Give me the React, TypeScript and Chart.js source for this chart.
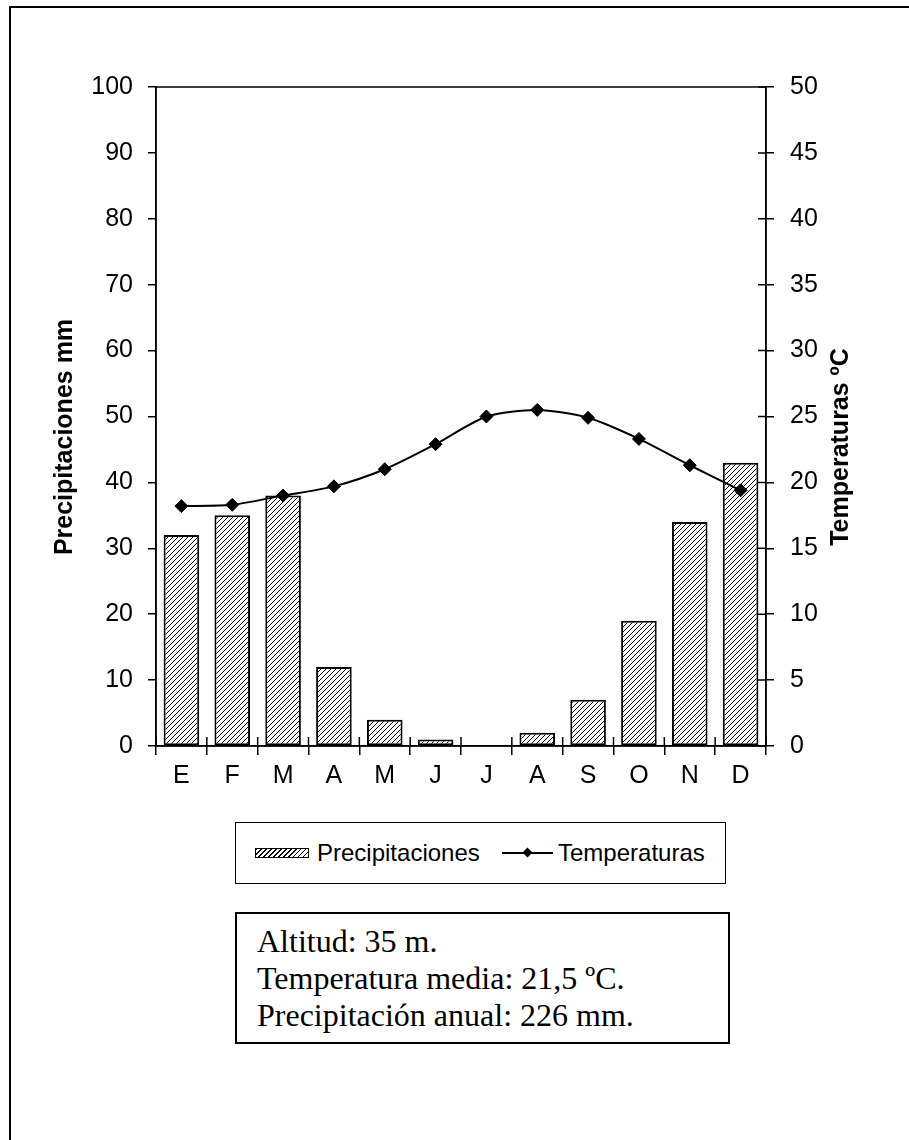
import React, { useEffect, useRef } from 'react';
import { Chart, registerables } from 'chart.js';

Chart.register(...registerables);

// ---- data ----
const months = ['E', 'F', 'M', 'A', 'M', 'J', 'J', 'A', 'S', 'O', 'N', 'D'];
const precipitation = [32, 35, 38, 12, 4, 1, 0, 2, 7, 19, 34, 43];
const temperature = [18.2, 18.3, 19.0, 19.7, 21.0, 22.9, 25.0, 25.5, 24.9, 23.3, 21.3, 19.4];
const precipAxis = [0, 100, 10]; // min, max, step
const tempAxis = [0, 50, 5];
const seriesNames = ['Precipitaciones', 'Temperaturas'];
const axisTitles = ['Precipitaciones mm', 'Temperaturas ºC'];
const infoLines = ['Altitud: 35 m.', 'Temperatura media: 21,5 ºC.', 'Precipitación anual: 226 mm.'];

const W = 909;
const H = 800;
const SANS = '"Liberation Sans", Arial, Helvetica, sans-serif';
const SERIF = '"Liberation Serif", "Times New Roman", serif';

function makeHatch(ctx: CanvasRenderingContext2D): CanvasPattern | string {
  const c = document.createElement('canvas');
  const s = 5;
  c.width = s;
  c.height = s;
  const g = c.getContext('2d');
  if (!g) return '#999';
  g.fillStyle = '#fff';
  g.fillRect(0, 0, s, s);
  g.strokeStyle = '#000';
  g.lineWidth = 1;
  g.beginPath();
  g.moveTo(0, s);
  g.lineTo(s, 0);
  g.moveTo(-1, 1);
  g.lineTo(1, -1);
  g.moveTo(s - 1, s + 1);
  g.lineTo(s + 1, s - 1);
  g.stroke();
  return ctx.createPattern(c, 'repeat') || '#999';
}

const decorPlugin = {
  id: 'decor',
  afterDraw(chart: any) {
    const { ctx, chartArea, scales } = chart;
    const { left, right, top, bottom } = chartArea;
    ctx.save();
    ctx.strokeStyle = '#000';
    ctx.lineWidth = 1.5;
    // plot frame
    ctx.strokeRect(left, top, right - left, bottom - top);
    // inner tick halves on right axis
    const y1 = scales.y1;
    ctx.beginPath();
    y1.ticks.forEach((t: any) => {
      const py = y1.getPixelForValue(t.value);
      ctx.moveTo(right - 8, py);
      ctx.lineTo(right, py);
    });
    // inner tick halves on x axis (category boundaries)
    const xs = scales.x;
    for (let i = 0; i <= months.length; i++) {
      const px = xs.getPixelForValue(i - 0.5);
      ctx.moveTo(px, bottom - 9);
      ctx.lineTo(px, bottom);
    }
    ctx.stroke();
    // axis titles
    ctx.fillStyle = '#000';
    ctx.font = `bold 25px ${SANS}`;
    ctx.textAlign = 'center';
    ctx.textBaseline = 'middle';
    ctx.save();
    ctx.translate(65, 437);
    ctx.rotate(-Math.PI / 2);
    ctx.fillText(axisTitles[0], 0, 0);
    ctx.restore();
    ctx.save();
    ctx.translate(841, 447);
    ctx.rotate(-Math.PI / 2);
    ctx.fillText(axisTitles[1], 0, 0);
    ctx.restore();
    ctx.restore();
  },
};

function ChartCanvas() {
  const ref = useRef<HTMLCanvasElement | null>(null);
  useEffect(() => {
    const canvas = ref.current;
    if (!canvas) return;
    const ctx = canvas.getContext('2d');
    if (!ctx) return;
    const hatch = makeHatch(ctx);
    const tickFont = { family: SANS, size: 25 };
    const chart = new Chart(ctx, {
      type: 'bar',
      data: {
        labels: months,
        datasets: [
          {
            type: 'line',
            label: seriesNames[1],
            data: temperature,
            yAxisID: 'y1',
            borderColor: '#000',
            borderWidth: 2,
            backgroundColor: '#000',
            pointStyle: 'rectRot',
            pointRadius: 6.5,
            pointBackgroundColor: '#000',
            pointBorderColor: '#000',
            pointBorderWidth: 1,
            tension: 0.25,
            fill: false,
            order: 0,
          } as any,
          {
            type: 'bar',
            label: seriesNames[0],
            data: precipitation,
            yAxisID: 'y',
            backgroundColor: hatch,
            borderColor: '#000',
            borderWidth: 2,
            borderSkipped: false,
            barPercentage: 0.7,
            categoryPercentage: 1.0,
            order: 1,
          } as any,
        ],
      },
      options: {
        animation: false,
        responsive: false,
        devicePixelRatio: 1,
        layout: { padding: { top: 87, left: 0, right: 0, bottom: 0 } },
        plugins: {
          legend: { display: false },
          title: { display: false },
          tooltip: { enabled: false },
        },
        scales: {
          x: {
            type: 'category',
            offset: true,
            grid: {
              display: true,
              offset: true,
              drawOnChartArea: false,
              drawTicks: true,
              tickLength: 9,
              color: '#000',
              lineWidth: 1.5,
            },
            border: { display: true, color: '#000', width: 1.5 },
            ticks: { color: '#000', font: tickFont, padding: 6, maxRotation: 0, autoSkip: false },
            afterFit: (s: any) => {
              s.height = H - 746;
            },
          },
          y: {
            type: 'linear',
            position: 'left',
            min: precipAxis[0],
            max: precipAxis[1],
            grid: {
              display: true,
              drawOnChartArea: false,
              drawTicks: true,
              tickLength: 8,
              color: '#000',
              lineWidth: 1.5,
            },
            border: { display: true, color: '#000', width: 1.5 },
            ticks: { color: '#000', font: tickFont, padding: 15, stepSize: precipAxis[2] },
            afterFit: (s: any) => {
              s.width = 156;
            },
          },
          y1: {
            type: 'linear',
            position: 'right',
            min: tempAxis[0],
            max: tempAxis[1],
            grid: {
              display: true,
              drawOnChartArea: false,
              drawTicks: true,
              tickLength: 8,
              color: '#000',
              lineWidth: 1.5,
            },
            border: { display: true, color: '#000', width: 1.5 },
            ticks: { color: '#000', font: tickFont, padding: 16, stepSize: tempAxis[2] },
            afterFit: (s: any) => {
              s.width = W - 766;
            },
          },
        },
      } as any,
      plugins: [decorPlugin],
    });
    return () => chart.destroy();
  }, []);
  return (
    <canvas
      ref={ref}
      width={W}
      height={H}
      style={{ position: 'fixed', left: 0, top: 0, width: W, height: H }}
    />
  );
}

export default function App() {
  return (
    <div>
      <div
        style={{
          position: 'fixed',
          left: 9,
          top: 6,
          width: 910,
          height: 1140,
          borderLeft: '2px solid #000',
          borderTop: '2px solid #000',
          boxSizing: 'border-box',
          background: '#fff',
        }}
      />
      <ChartCanvas />
      <div
        style={{
          position: 'fixed',
          left: 235,
          top: 822,
          width: 491,
          height: 62,
          border: '1px solid #000',
          boxSizing: 'border-box',
          background: '#fff',
          fontFamily: SANS,
          fontSize: 24,
          color: '#000',
        }}
      >
        <div
          style={{
            position: 'absolute',
            left: 19,
            top: 25,
            width: 54,
            height: 10,
            boxSizing: 'border-box',
            border: '1px solid #000',
            background: 'repeating-linear-gradient(135deg, #000 0px, #000 1px, #fff 1px, #fff 3.5px)',
          }}
        />
        <div style={{ position: 'absolute', left: 81, top: 0, lineHeight: '60px', whiteSpace: 'nowrap' }}>
          {seriesNames[0]}
        </div>
        <div
          style={{
            position: 'absolute',
            left: 266,
            top: 29,
            width: 51,
            height: 2,
            background: '#000',
          }}
        />
        <div
          style={{
            position: 'absolute',
            left: 288,
            top: 26,
            width: 7,
            height: 7,
            background: '#000',
            transform: 'rotate(45deg)',
          }}
        />
        <div style={{ position: 'absolute', left: 322, top: 0, lineHeight: '60px', whiteSpace: 'nowrap' }}>
          {seriesNames[1]}
        </div>
      </div>
      <div
        style={{
          position: 'fixed',
          left: 235,
          top: 912,
          width: 495,
          height: 132,
          border: '2px solid #000',
          boxSizing: 'border-box',
          background: '#fff',
          fontFamily: SERIF,
          fontSize: 32,
          lineHeight: '37px',
          color: '#000',
          paddingLeft: 20,
          paddingTop: 9,
        }}
      >
        {infoLines.map((l, i) => (
          <div key={i} style={{ whiteSpace: 'nowrap' }}>
            {l}
          </div>
        ))}
      </div>
    </div>
  );
}
